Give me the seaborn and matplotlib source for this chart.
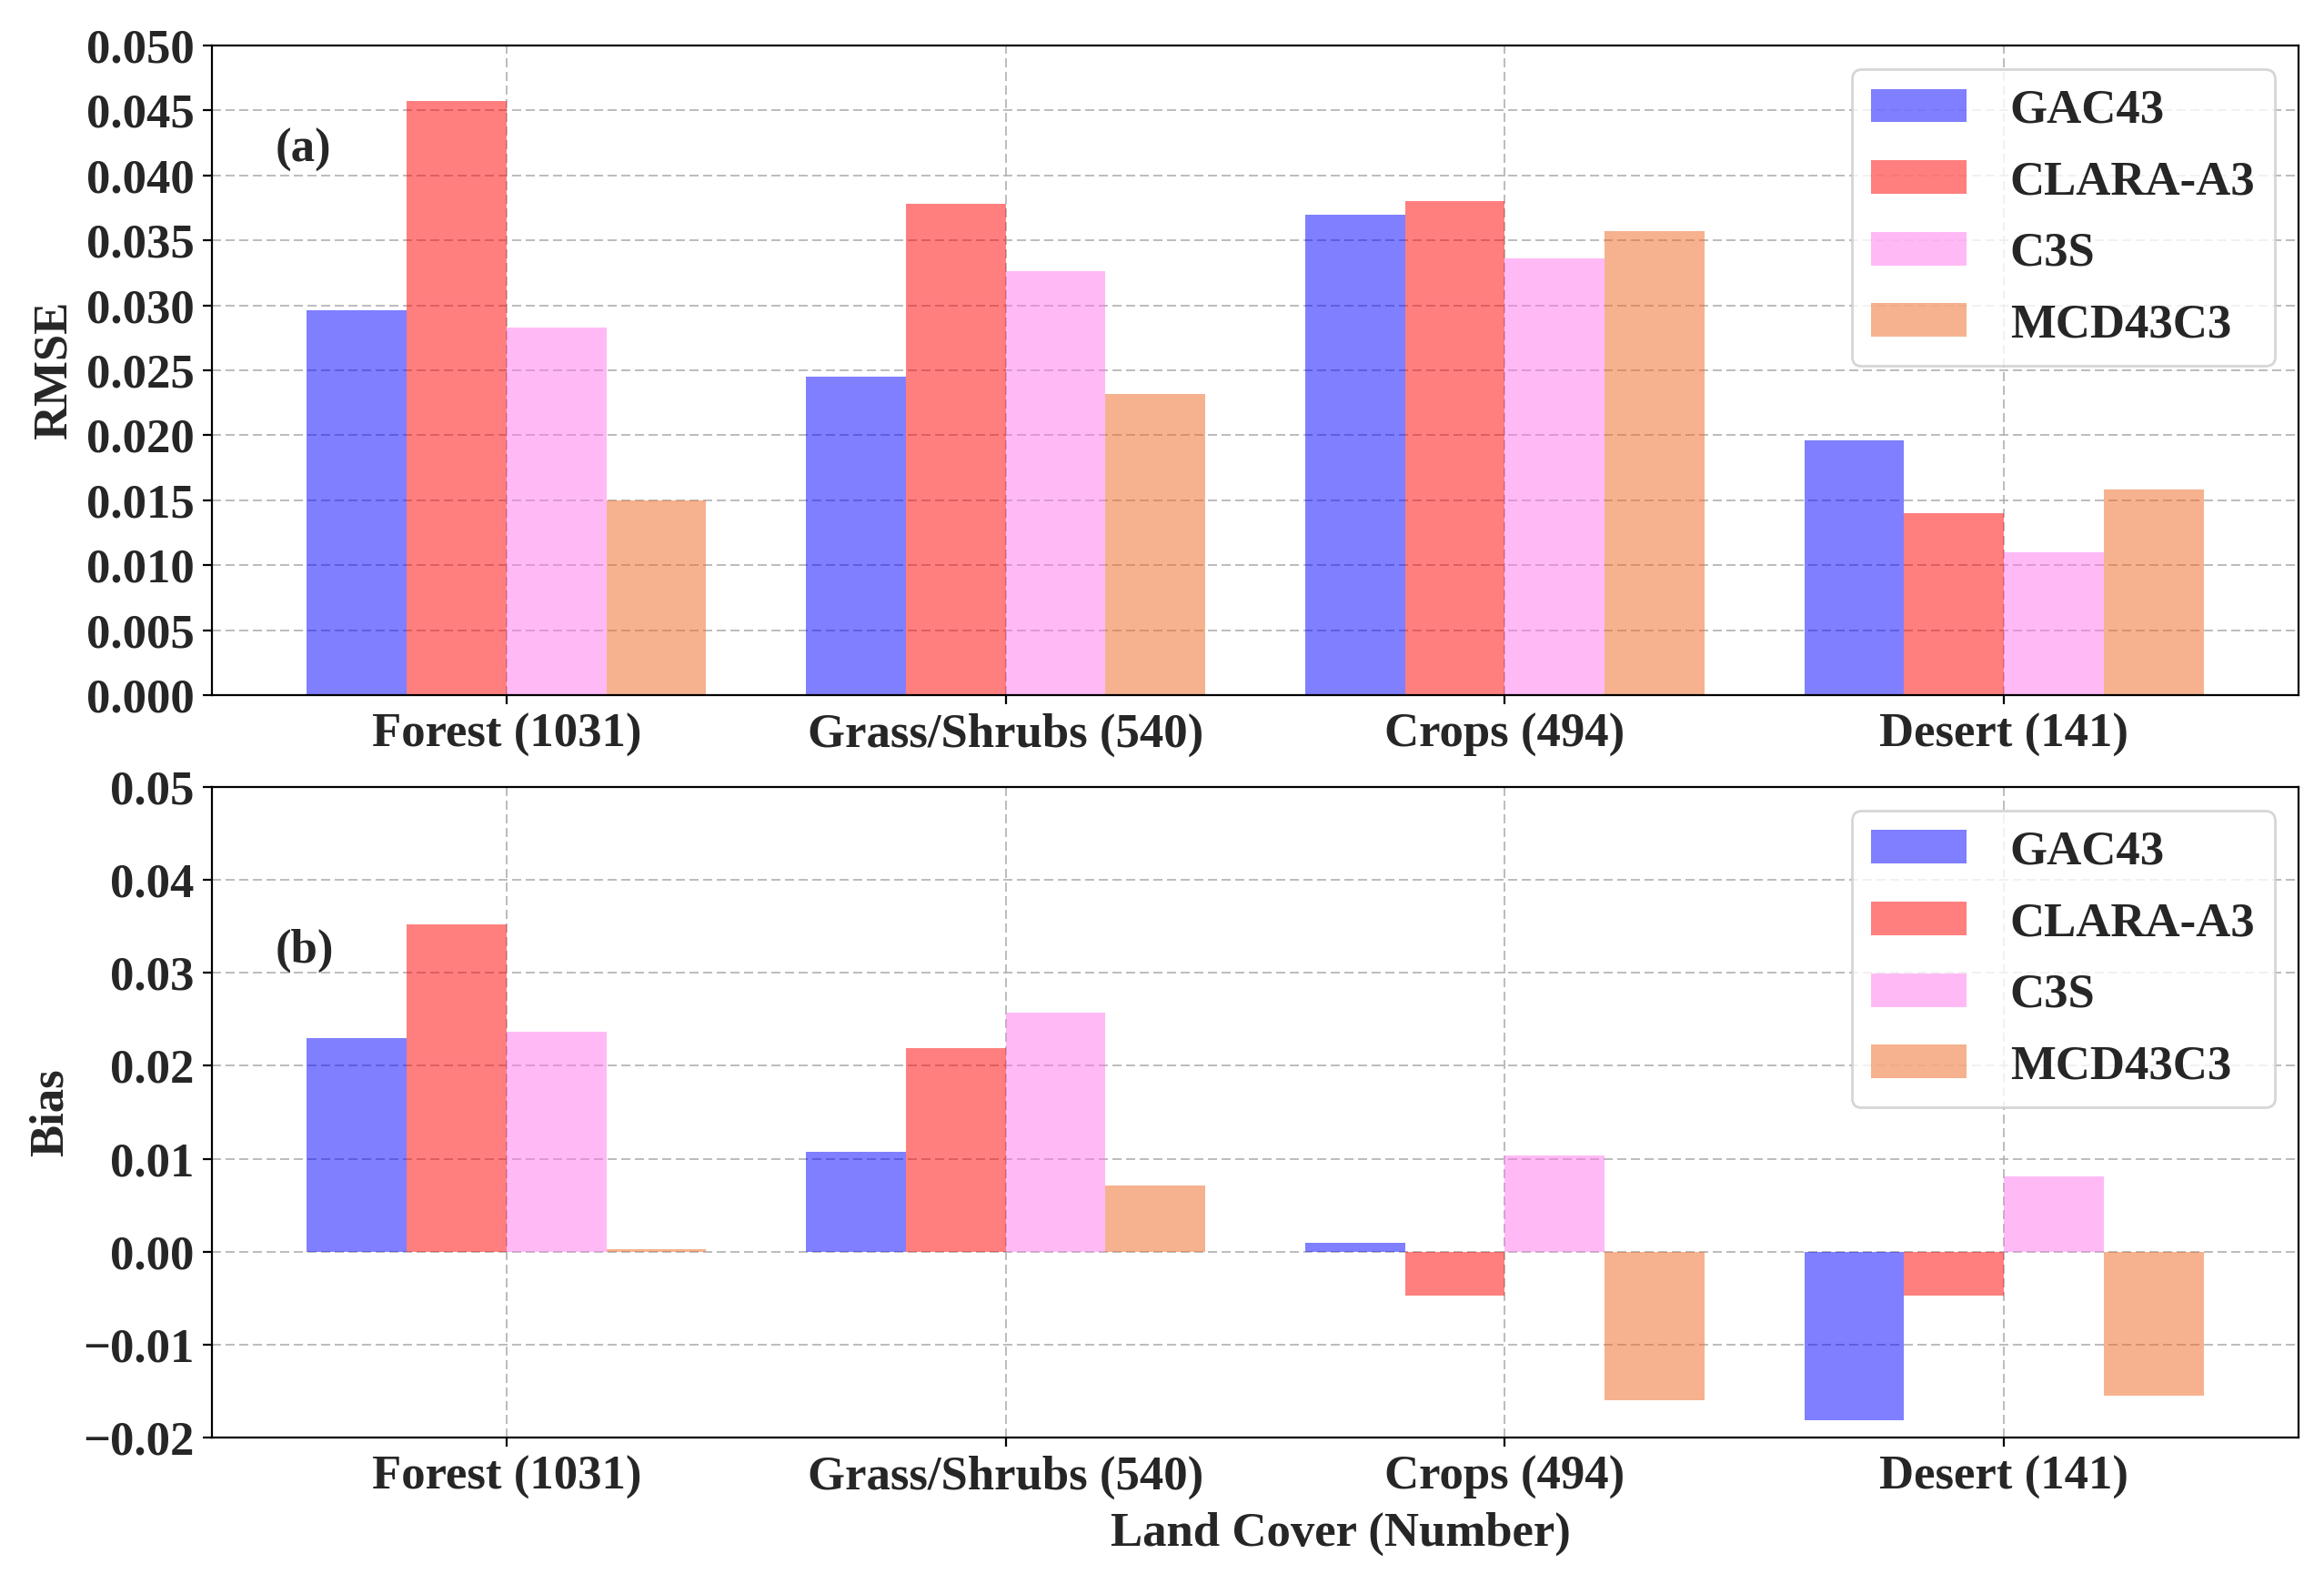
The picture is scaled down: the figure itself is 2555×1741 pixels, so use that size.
import numpy as np
import pandas as pd
import seaborn as sns
import matplotlib.pyplot as plt
from matplotlib.patches import Patch
from matplotlib.ticker import MultipleLocator

# land cover classes and products
covers = ["Forest (1031)", "Grass/Shrubs (540)", "Crops (494)", "Desert (141)"]
products = ["GAC43", "CLARA-A3", "C3S", "MCD43C3"]

# RMSE per product
rmse_gac43 = [0.0296, 0.0245, 0.0370, 0.0196]
rmse_clara = [0.0457, 0.0378, 0.0380, 0.0140]
rmse_c3s = [0.0283, 0.0326, 0.0336, 0.0110]
rmse_mcd = [0.0150, 0.0232, 0.0357, 0.0158]

# Bias per product
bias_gac43 = [0.0230, 0.0107, 0.0009, -0.0181]
bias_clara = [0.0352, 0.0219, -0.0047, -0.0047]
bias_c3s = [0.0237, 0.0257, 0.0103, 0.0081]
bias_mcd = [0.0003, 0.0071, -0.0160, -0.0155]

colors = ["#0000ff", "#ff0000", "#ff77ee", "#ef661e"]
FS = 19


def long_form(series):
    rows = []
    for prod, vals in zip(products, series):
        for cov, v in zip(covers, vals):
            rows.append({"cover": cov, "product": prod, "value": v})
    return pd.DataFrame(rows)


df_rmse = long_form([rmse_gac43, rmse_clara, rmse_c3s, rmse_mcd])
df_bias = long_form([bias_gac43, bias_clara, bias_c3s, bias_mcd])

sns.set_style("ticks")
plt.rcParams["font.family"] = ["Liberation Serif", "DejaVu Serif"]
plt.rcParams["font.weight"] = "bold"
plt.rcParams["axes.labelweight"] = "bold"
plt.rcParams["lines.scale_dashes"] = False

fig = plt.figure(figsize=(12.775, 8.705), dpi=200)
ax1 = fig.add_axes([0.0912, 0.5612, 0.8978, 0.4101])
ax2 = fig.add_axes([0.0912, 0.0925, 0.8978, 0.4107])


def draw(ax, df, ylabel, ylim, step, tag, tag_y):
    sns.barplot(data=df, x="cover", y="value", hue="product", hue_order=products,
                order=covers, palette=colors, saturation=1, alpha=0.5,
                errorbar=None, width=0.8, linewidth=0, ax=ax, legend=False)
    ax.set_axisbelow(True)
    ax.grid(True, linestyle=(0, (3.6, 1.8)), color="#b0b0b0", linewidth=0.6)
    ax.set_xlim(-0.59, 3.59)
    ax.set_ylim(*ylim)
    ax.yaxis.set_major_locator(MultipleLocator(step))
    ax.set_ylabel(ylabel, fontsize=FS, fontweight="bold")
    ax.set_xlabel("")
    ax.tick_params(axis="both", labelsize=FS, length=3.6, width=0.8, color="black")
    for lab in ax.get_xticklabels() + ax.get_yticklabels():
        lab.set_fontweight("bold")
    for s in ax.spines.values():
        s.set_visible(True)
        s.set_color("black")
        s.set_linewidth(0.8)
    ax.text(0.0305, tag_y, tag, transform=ax.transAxes, va="center", ha="left",
            fontsize=FS, fontweight="bold")
    handles = [Patch(facecolor=c, alpha=0.5, linewidth=0, label=p)
               for c, p in zip(colors, products)]
    ax.legend(handles=handles, loc="upper right", labelspacing=0.58,
              handletextpad=0.9, prop={"size": FS, "weight": "bold"})


draw(ax1, df_rmse, "RMSE", (0, 0.05), 0.005, "(a)", 0.839)
draw(ax2, df_bias, "Bias", (-0.02, 0.05), 0.01, "(b)", 0.748)

ax2.set_xlabel("Land Cover (Number)", fontsize=FS, fontweight="bold")
ax2.xaxis.set_label_coords(0.541, -0.115)
fig.align_ylabels([ax1, ax2])

fig.savefig("out.png", dpi=200)
